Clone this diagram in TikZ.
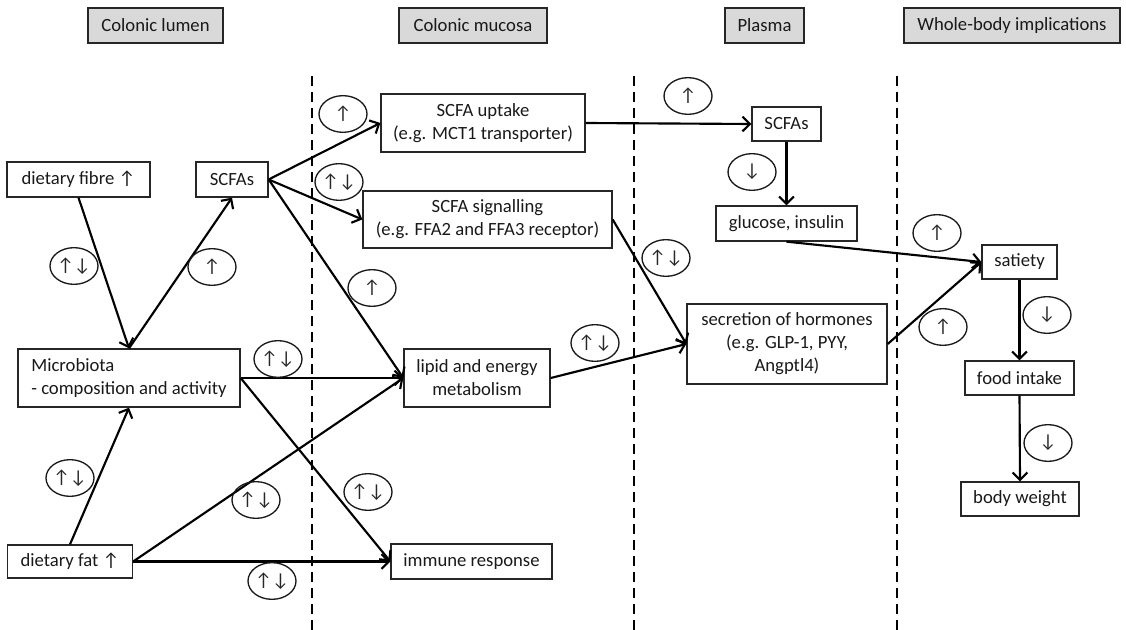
\documentclass[tikz,border=0pt]{standalone}
\usepackage{fontspec}
\setmainfont{Carlito}
\usetikzlibrary{shapes.geometric,arrows.meta}

\tikzset{
  box/.style={draw=black!85, line width=1pt, align=center, inner sep=2pt,
    font=\fontsize{14}{17.2}\selectfont, text=black!90},
  head/.style={box, fill=black!15, minimum height=26.25pt},
  tag/.style={ellipse, draw=black!90, line width=1pt, minimum width=36pt,
    minimum height=27.5pt, inner sep=0pt, font=\fontsize{14}{14}\selectfont, text=black!85},
  link/.style={line width=1.6pt, -{Straight Barb[length=5.5pt,width=11pt,line width=1.6pt]}},
  zone/.style={line width=1.6pt, dash pattern=on 7.5pt off 4.5pt}
}

\begin{document}
\begin{tikzpicture}[x=0.75pt,y=0.75pt,yscale=-1]
\useasboundingbox (0,0) rectangle (1126,630);

% Header Nodes
\node [head, minimum width=101.25pt] (hlumen) at (155.5,25.5) {Colonic lumen};
\node [head, minimum width=111pt] (hmucosa) at (473,25.5) {Colonic mucosa};
\node [head, minimum width=59.25pt] (hplasma) at (764.5,25.5) {Plasma};
\node [head, minimum width=162pt] (hbody) at (1012,25.5) {Whole-body implications};

%Dashed Lines
\draw [zone] (312,76) -- (312,630);
\draw [zone] (634,76) -- (634,630);
\draw [zone] (897,76) -- (897,630);

% Text Node
\node [box, minimum width=107.25pt, minimum height=26.25pt] (fibre) at (78.5,179.5) {dietary fibre ↑};
\node [box, minimum width=54pt, minimum height=26.25pt] (scfa) at (232,179.5) {SCFAs};
\node [box, align=left, minimum width=166.5pt, minimum height=43.5pt] (micro) at (129,378) {Microbiota\\- composition and activity};
\node [box, minimum width=93.75pt, minimum height=24.75pt] (fat) at (70,561.5) {dietary fat ↑};
% Text Node
\node [box, minimum width=153pt, minimum height=43.5pt] (uptake) at (483,123) {SCFA uptake\\(e.g. MCT1 transporter)};
\node [box, minimum width=186.75pt, minimum height=42.75pt] (signal) at (487.5,219.5) {SCFA signalling\\(e.g. FFA2 and FFA3 receptor)};
\node [box, minimum width=109.5pt, minimum height=43.5pt] (lipid) at (477,378) {lipid and energy\\metabolism};
\node [box, minimum width=120.75pt, minimum height=26.25pt] (immune) at (471.5,561.5) {immune response};
% Text Node
\node [box, minimum width=51.75pt, minimum height=25.5pt] (pscfa) at (786.5,124) {SCFAs};
\node [box, minimum width=105.75pt, minimum height=26.25pt] (gluc) at (786.5,223.5) {glucose, insulin};
\node [box, minimum width=150pt, minimum height=60pt] (hormone) at (787,344) {secretion of hormones\\(e.g. GLP-1, PYY,\\Angptl4)};
% Text Node
\node [box, minimum width=56.25pt, minimum height=25.5pt] (satiety) at (1019.5,262) {satiety};
\node [box, minimum width=81.75pt, minimum height=25.5pt] (food) at (1019.5,378) {food intake};
\node [box, minimum width=88.5pt, minimum height=25.5pt] (weight) at (1020,499) {body weight};

%Straight Lines
\draw [link] (fibre.south) -- (micro.north);
\draw [link] (micro.north) -- (scfa.south);
\draw [link] (fat.north) -- (micro.south);
\draw [link] (scfa.east) -- (uptake.west);
\draw [link] (scfa.east) -- (signal.west);
\draw [link] (scfa.east) -- (lipid.west);
\draw [link] (micro.east) -- (lipid.west);
\draw [link] (micro.east) -- (immune.west);
\draw [link] (fat.east) -- (lipid.west);
\draw [link] (fat.east) -- (immune.west);
\draw [link] (uptake.east) -- (pscfa.west);
\draw [link] (signal.east) -- (hormone.west);
\draw [link] (lipid.east) -- (hormone.west);
\draw [link] (pscfa.south) -- (gluc.north);
\draw [link] (gluc.south) -- (satiety.west);
\draw [link] (hormone.east) -- (satiety.west);
\draw [link] (satiety.south) -- (food.north);
\draw [link] (food.south) -- (weight.north);

%Shape: Ellipse
\node [tag] (t1) at (74,266) {↑↓};
\node [tag] (t2) at (212,267) {↑};
\node [tag] (t3) at (343,114) {↑};
\node [tag] (t4) at (339,182) {↑↓};
\node [tag] (t5) at (372,288) {↑};
\node [tag] (t6) at (278,359) {↑↓};
\node [tag] (t7) at (70,478) {↑↓};
\node [tag] (t8) at (256,500) {↑↓};
\node [tag] (t9) at (368,492) {↑↓};
\node [tag] (t10) at (272,581) {↑↓};
\node [tag] (t11) at (595,343) {↑↓};
\node [tag] (t12) at (688,96) {↑};
\node [tag] (t13) at (666,258) {↑↓};
\node [tag] (t14) at (752,172) {↓};
\node [tag] (t15) at (937,233) {↑};
\node [tag] (t16) at (943,327) {↑};
\node [tag] (t17) at (1047,315) {↓};
\node [tag] (t18) at (1048,443) {↓};

\end{tikzpicture}
\end{document}
